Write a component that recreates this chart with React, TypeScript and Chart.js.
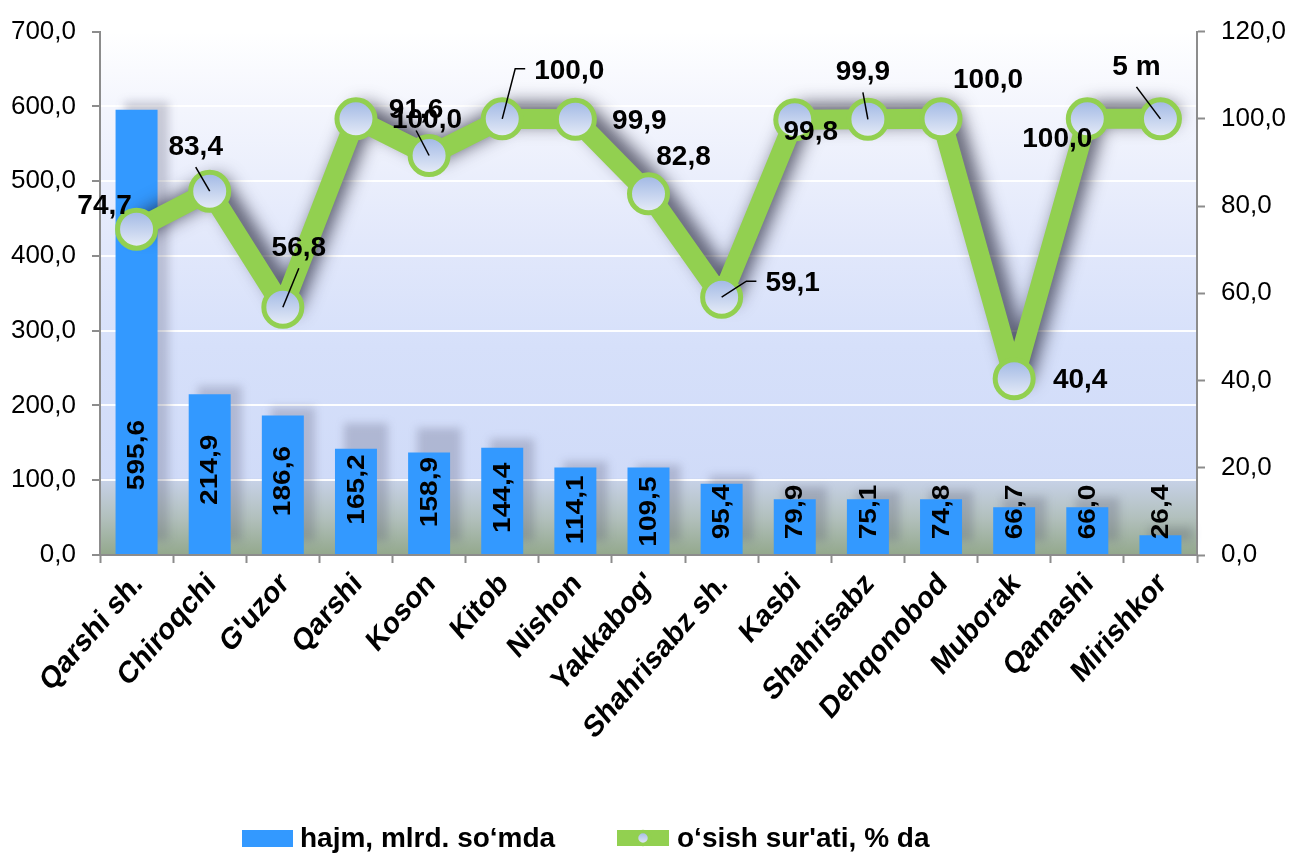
import React, { useEffect, useRef } from "react";
import { Chart, registerables } from "chart.js";

Chart.register(...registerables);

const categories = [
  "Qarshi sh.", "Chiroqchi", "G'uzor", "Qarshi", "Koson", "Kitob", "Nishon",
  "Yakkabog'", "Shahrisabz sh.", "Kasbi", "Shahrisabz", "Dehqonobod", "Muborak",
  "Qamashi", "Mirishkor",
];

// bar heights as drawn in the picture
const volumeBars = [595.6, 214.9, 186.6, 142.0, 137.0, 143.4, 117.0, 117.0, 95.4, 74.4, 74.4, 74.4, 64.0, 64.0, 26.4];
// printed bar values
const volumeLabelValues = [595.6, 214.9, 186.6, 165.2, 158.9, 144.4, 114.1, 109.5, 95.4, 79.9, 75.1, 74.8, 66.7, 66.0, 26.4];

const growthValues = [74.7, 83.4, 56.8, 100.0, 91.6, 100.0, 99.9, 82.8, 59.1, 99.8, 99.9, 100.0, 40.4, 100.0, 100.0];
const growthLabels = ["74,7", "83,4", "56,8", "100,0", "91,6", "100,0", "99,9", "82,8", "59,1", "99,8", "99,9", "100,0", "40,4", "100,0", "5 m"];

const seriesNames = ["hajm, mlrd. so‘mda", "o‘sish sur'ati, % da"];

const leftTicks = { min: 0, max: 700, step: 100 };
const rightTicks = { min: 0, max: 120, step: 20 };

// label placement (style only)
const growthLabelOffsets: [number, number][] = [
  [-32, -24], [-14, -45], [16, -60], [71, 0], [-13, -46], [67, -49], [64, 1], [35, -38],
  [71, -15], [16, 12], [-5, -48], [47, -40], [66, 0], [-30, 19], [-24, -53],
];
const growthLeaders = ["", "line", "line", "", "line", "elbow", "", "", "elbow", "", "line", "", "", "", "line"];

const FONT = '"Liberation Sans", Arial, sans-serif';
const BAR_COLOR = "#3399ff";
const LINE_COLOR = "#92d050";
const STRETCH = 1.15;

const fmt = (v: number) => Number(v).toFixed(1).replace(".", ",");

export default function App() {
  const ref = useRef<HTMLCanvasElement>(null);

  useEffect(() => {
    const canvas = ref.current!;

    const drawMarker = (ctx: any, x: number, y: number, r: number, bw: number) => {
      const g = ctx.createLinearGradient(0, y - r, 0, y + r);
      g.addColorStop(0, "#9fb7e4");
      g.addColorStop(1, "#e8edf8");
      ctx.beginPath();
      ctx.arc(x, y, r, 0, Math.PI * 2);
      ctx.fillStyle = g;
      ctx.fill();
      ctx.lineWidth = bw;
      ctx.strokeStyle = LINE_COLOR;
      ctx.stroke();
    };

    const bgPlugin = {
      id: "bgPlugin",
      beforeDraw(chart: any) {
        const { ctx, chartArea: a } = chart;
        const yS = chart.scales.y;
        ctx.save();
        ctx.fillStyle = "#ffffff";
        ctx.fillRect(0, 0, chart.width, chart.height);
        const h = a.bottom - a.top;
        const f = Math.min(0.99, Math.max(0.01, (yS.getPixelForValue(100) - a.top) / h));
        const g = ctx.createLinearGradient(0, a.top, 0, a.bottom);
        g.addColorStop(0, "#ffffff");
        g.addColorStop(0.15, "#f3f5fd");
        g.addColorStop(0.4, "#e2e8fb");
        g.addColorStop(0.6, "#d6e0fa");
        g.addColorStop(f - 0.005, "#d0dbf8");
        g.addColorStop(f + 0.002, "#c6d1e6");
        g.addColorStop(f + (1 - f) * 0.5, "#b2c0bd");
        g.addColorStop(1, "#93a88c");
        ctx.fillStyle = g;
        ctx.fillRect(a.left, a.top, a.right - a.left, h);
        ctx.restore();
      },
      beforeDatasetsDraw(chart: any) {
        const { ctx } = chart;
        const yS = chart.scales.y;
        const meta = chart.getDatasetMeta(1);
        ctx.save();
        ctx.filter = "blur(4px)";
        ctx.fillStyle = "rgba(70,70,100,0.25)";
        meta.data.forEach((el: any, i: number) => {
          const w = el.width;
          const top = yS.getPixelForValue(volumeLabelValues[i] + 11);
          const bottom = yS.getPixelForValue(0) - 14;
          ctx.fillRect(el.x - w / 2 + 9, top, w + 2, bottom - top);
        });
        ctx.restore();
      },
      beforeDatasetDraw(chart: any, args: any) {
        if (args.index !== 0) return;
        const { ctx } = chart;
        ctx.save();
        ctx.shadowColor = "rgba(25,25,45,0.75)";
        ctx.shadowBlur = 18;
        ctx.shadowOffsetX = 8;
        ctx.shadowOffsetY = -5;
      },
      afterDatasetDraw(chart: any, args: any) {
        if (args.index !== 0) return;
        const { ctx } = chart;
        ctx.restore();
        const meta = chart.getDatasetMeta(0);
        ctx.save();
        meta.data.forEach((el: any) => drawMarker(ctx, el.x, el.y, 19, 5));
        ctx.restore();
      },
      afterDatasetsDraw(chart: any) {
        const { ctx } = chart;
        const yS = chart.scales.y;
        const xS = chart.scales.x;
        const base = yS.getPixelForValue(0);

        // category labels (slanted, slightly stretched vertically)
        ctx.save();
        ctx.fillStyle = "#000";
        ctx.font = `bold 27px ${FONT}`;
        ctx.textAlign = "right";
        ctx.textBaseline = "middle";
        categories.forEach((c, i) => {
          const x = xS.getPixelForTick(i);
          ctx.save();
          ctx.translate(x + 2, base + 24);
          ctx.scale(1, STRETCH);
          ctx.rotate(-Math.PI / 4);
          ctx.fillText(c, 0, 0);
          ctx.restore();
        });
        ctx.restore();

        // bar labels
        const barMeta = chart.getDatasetMeta(1);
        ctx.save();
        ctx.fillStyle = "#000";
        ctx.font = `bold 24px ${FONT}`;
        ctx.textAlign = "center";
        ctx.textBaseline = "middle";
        barMeta.data.forEach((el: any, i: number) => {
          const hpx = base - yS.getPixelForValue(volumeLabelValues[i]);
          const off = Math.min(100, Math.max(43, hpx * 0.53));
          ctx.save();
          ctx.translate(el.x, base - off);
          ctx.rotate(-Math.PI / 2);
          ctx.scale(1.17, 1);
          ctx.fillText(fmt(volumeLabelValues[i]), 0, 1);
          ctx.restore();
        });
        ctx.restore();

        // line labels + leaders
        const lineMeta = chart.getDatasetMeta(0);
        ctx.save();
        ctx.font = `bold 28px ${FONT}`;
        ctx.textAlign = "center";
        ctx.textBaseline = "middle";
        lineMeta.data.forEach((el: any, i: number) => {
          const [dx, dy] = growthLabelOffsets[i];
          const lx = el.x + dx;
          const ly = el.y + dy;
          const kind = growthLeaders[i];
          ctx.strokeStyle = "#000";
          ctx.lineWidth = 1.5;
          if (kind === "line") {
            ctx.beginPath();
            ctx.moveTo(lx, ly + 21);
            ctx.lineTo(el.x, el.y);
            ctx.stroke();
          } else if (kind === "elbow") {
            const tw = ctx.measureText(growthLabels[i]).width;
            const left = lx - tw / 2;
            ctx.beginPath();
            ctx.moveTo(left - 9, ly - 1);
            ctx.lineTo(left - 19, ly - 1);
            ctx.lineTo(el.x, el.y);
            ctx.stroke();
          }
          ctx.fillStyle = "#000";
          ctx.fillText(growthLabels[i], lx, ly + 1);
        });
        ctx.restore();
      },
      afterDraw(chart: any) {
        const { ctx } = chart;
        const y0 = 838;
        ctx.save();
        ctx.font = `bold 28px ${FONT}`;
        ctx.textBaseline = "middle";
        ctx.textAlign = "left";
        // series 1
        ctx.fillStyle = BAR_COLOR;
        ctx.fillRect(242, y0 - 8, 51, 17);
        ctx.fillStyle = "#000";
        ctx.fillText(seriesNames[0], 300, y0 + 1);
        // series 2
        const x2 = 617;
        ctx.strokeStyle = LINE_COLOR;
        ctx.lineWidth = 16;
        ctx.beginPath();
        ctx.moveTo(x2, y0);
        ctx.lineTo(x2 + 52, y0);
        ctx.stroke();
        drawMarker(ctx, x2 + 26, y0, 6.5, 3.5);
        ctx.fillStyle = "#000";
        ctx.fillText(seriesNames[1], x2 + 60, y0 + 1);
        ctx.restore();
      },
    };

    const chart = new Chart(canvas, {
      type: "bar",
      data: {
        labels: categories,
        datasets: [
          {
            type: "line",
            label: seriesNames[1],
            data: growthValues,
            yAxisID: "y1",
            borderColor: LINE_COLOR,
            borderWidth: 20,
            borderJoinStyle: "round",
            borderCapStyle: "round",
            pointRadius: 0,
            pointHoverRadius: 0,
            fill: false,
            tension: 0,
            order: 1,
          } as any,
          {
            type: "bar",
            label: seriesNames[0],
            data: volumeBars,
            yAxisID: "y",
            backgroundColor: BAR_COLOR,
            borderWidth: 0,
            barPercentage: 0.574,
            categoryPercentage: 1,
            order: 2,
          } as any,
        ],
      },
      options: {
        animation: false,
        responsive: false,
        maintainAspectRatio: false,
        layout: { padding: { top: 28, left: 0, right: 0, bottom: 0 } },
        plugins: { legend: { display: false }, tooltip: { enabled: false } },
        scales: {
          x: {
            type: "category",
            offset: true,
            grid: {
              offset: true,
              drawOnChartArea: false,
              drawTicks: true,
              tickLength: 8,
              tickColor: "#8c8c8c",
              tickWidth: 2,
              color: "#8c8c8c",
            },
            border: { display: true, color: "#8c8c8c", width: 2 },
            ticks: { display: false, autoSkip: false },
            afterFit: (s: any) => {
              s.height = 300;
            },
          },
          y: {
            position: "left",
            min: leftTicks.min,
            max: leftTicks.max,
            ticks: {
              stepSize: leftTicks.step,
              callback: (v: any) => fmt(v),
              color: "#000",
              padding: 16,
              font: { family: FONT, size: 26 },
            },
            grid: {
              color: "rgba(255,255,255,0.95)",
              lineWidth: 2,
              tickColor: "#8c8c8c",
              tickLength: 8,
              tickWidth: 2,
            },
            border: { display: true, color: "#8c8c8c", width: 2 },
            afterFit: (s: any) => {
              s.width = 100;
            },
          },
          y1: {
            position: "right",
            min: rightTicks.min,
            max: rightTicks.max,
            ticks: {
              stepSize: rightTicks.step,
              callback: (v: any) => fmt(v),
              color: "#000",
              padding: 16,
              font: { family: FONT, size: 26 },
            },
            grid: {
              drawOnChartArea: false,
              tickColor: "#8c8c8c",
              tickLength: 8,
              tickWidth: 2,
            },
            border: { display: true, color: "#8c8c8c", width: 2 },
            afterFit: (s: any) => {
              s.width = 94;
            },
          },
        },
      } as any,
      plugins: [bgPlugin],
    });

    return () => chart.destroy();
  }, []);

  return (
    <div style={{ position: "absolute", left: 0, top: 0, width: 1291, height: 855, background: "#fff" }}>
      <canvas ref={ref} width={1291} height={855} style={{ display: "block" }} />
    </div>
  );
}
